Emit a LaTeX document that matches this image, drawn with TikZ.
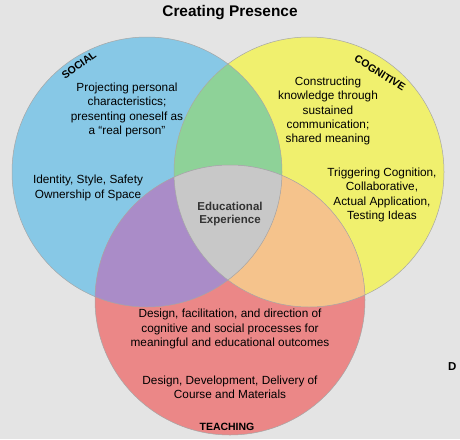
\documentclass[tikz,border=0pt]{standalone}
\usepackage{fontspec}
\setmainfont{Liberation Sans}
\usepackage{tikz}
\usetikzlibrary{positioning}
\definecolor{bgcol}{RGB}{228,228,228}
\definecolor{socialcol}{RGB}{135,200,230}
\definecolor{cogcol}{RGB}{240,240,110}
\definecolor{teachcol}{RGB}{235,135,135}
\definecolor{sccol}{RGB}{142,210,152}
\definecolor{stcol}{RGB}{170,140,200}
\definecolor{ctcol}{RGB}{245,195,140}
\definecolor{allcol}{RGB}{200,200,200}
\tikzset{x=1pt,y=-1pt}
\tikzset{txt/.style={align=center,font=\fontsize{11.8}{14.2}\selectfont,inner sep=0pt}}
\tikzset{lbl/.style={font=\fontsize{10.5}{12}\selectfont\bfseries,inner sep=0pt}}
\tikzset{ring/.style={draw=black!35,line width=0.5pt}}

\begin{document}
\begin{tikzpicture}
    \fill[bgcol] (0,0) rectangle (460,439);
    \useasboundingbox (0,0) rectangle (460,439);
    % circles
    \def\rad{135}
    \fill[socialcol] (147,172) circle (\rad);
    \fill[cogcol] (309,172) circle (\rad);
    \fill[teachcol] (230,300) circle (\rad);
    \begin{scope}
        \clip (147,172) circle (\rad);
        \fill[sccol] (309,172) circle (\rad);
        \fill[stcol] (230,300) circle (\rad);
        \clip (309,172) circle (\rad);
        \fill[allcol] (230,300) circle (\rad);
    \end{scope}
    \begin{scope}
        \clip (309,172) circle (\rad);
        \clip (230,300) circle (\rad);
        \fill[ctcol, even odd rule] (-10,-10) rectangle (470,450) (147,172) circle (\rad);
    \end{scope}
    \draw[ring] (147,172) circle (\rad);
    \draw[ring] (309,172) circle (\rad);
    \draw[ring] (230,300) circle (\rad);
    % texts
    \node[font=\fontsize{15.4}{17}\selectfont\bfseries] (title) at (230,13) {Creating Presence};
    \node[lbl,rotate=36] (social) at (79,65) {SOCIAL};
    \node[lbl,rotate=-32] (cognitive) at (380,73) {COGNITIVE};
    \node[lbl] (teaching) at (227,427) {TEACHING};
    \node[txt] (s1) at (127,110) {Projecting personal\\characteristics;\\presenting oneself as\\a \textquotedblleft real person\textquotedblright};
    \node[txt] (s2) at (88,188) {Identity, Style, Safety\\Ownership of Space};
    \node[txt] (c1) at (328,111) {Constructing\\knowledge through\\sustained\\communication;\\shared meaning};
    \node[txt] (c2) at (382,195) {Triggering Cognition,\\Collaborative,\\Actual Application,\\Testing Ideas};
    \node[txt,font=\fontsize{11.5}{13.5}\selectfont\bfseries,text=black!80] (edu) at (230,214) {Educational\\Experience};
    \node[txt] (t1) at (230,329) {Design, facilitation, and direction of\\cognitive and social processes for\\meaningful and educational outcomes};
    \node[txt] (t2) at (230,387) {Design, Development, Delivery of\\Course and Materials};
    \node[lbl,font=\fontsize{11.5}{12}\selectfont\bfseries,anchor=west] (d) at (448,367) {D};
\end{tikzpicture}
\end{document}
